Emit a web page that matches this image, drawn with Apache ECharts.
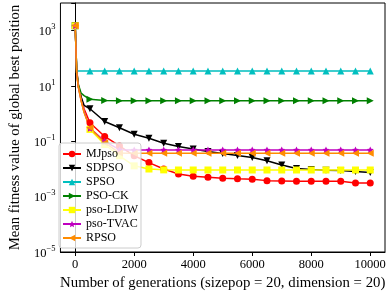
<!DOCTYPE html>
<html>
<head>
<meta charset="utf-8">
<script src="https://cdn.jsdelivr.net/npm/echarts@6/dist/echarts.min.js"></script>
<style>
html,body{margin:0;padding:0;background:#fff;}
#main{width:392px;height:297px;}
</style>
</head>
<body>
<div id="main"></div>
<script>
// generations sampled
var gens = [0, 50, 100, 200, 300, 500, 1000, 1500, 2000, 2500, 3000, 3500, 4000, 4500, 5000,
	5500, 6000, 6500, 7000, 7500, 8000, 8500, 9000, 9500, 10000];
var mjpso = [1500, 40, 12, 4, 1.5, 0.47, 0.15, 0.068, 0.03, 0.017, 0.01, 0.0066, 0.0055, 0.005, 0.0046,
	0.0044, 0.0043, 0.0038, 0.0037, 0.0036, 0.0036, 0.0036, 0.0036, 0.0031, 0.0031];
var sdpso = [1500, 40, 10, 4, 2, 1.5, 0.52, 0.31, 0.18, 0.13, 0.085, 0.065, 0.053, 0.043, 0.036,
	0.031, 0.026, 0.02, 0.014, 0.0105, 0.0095, 0.009, 0.0088, 0.0082, 0.0074];
var spso = [1500, 35, 35, 35, 35, 35, 35, 35, 35, 35, 35, 35, 35, 35, 35,
	35, 35, 35, 35, 35, 35, 35, 35, 35, 35];
var psock = [1500, 40, 12, 5.5, 4.5, 3.3, 3.0, 2.9, 2.9, 2.9, 2.9, 2.9, 2.9, 2.9, 2.9,
	2.9, 2.9, 2.9, 2.9, 2.9, 2.9, 2.9, 2.9, 2.9, 2.9];
var ldiw = [1500, 30, 10, 3, 1.2, 0.27, 0.077, 0.03, 0.013, 0.01, 0.0093, 0.0092, 0.0092, 0.0092, 0.0092,
	0.0092, 0.0092, 0.0092, 0.0092, 0.0092, 0.0092, 0.0092, 0.0092, 0.0092, 0.0092];
var tvac = [1500, 30, 10, 3, 1.2, 0.3, 0.1, 0.05, 0.049, 0.049, 0.049, 0.049, 0.049, 0.049, 0.049,
	0.049, 0.049, 0.049, 0.049, 0.049, 0.049, 0.049, 0.049, 0.049, 0.049];
var rpso = [1500, 30, 10, 3, 1.1, 0.31, 0.089, 0.038, 0.037, 0.037, 0.037, 0.037, 0.037, 0.037, 0.037,
	0.037, 0.037, 0.037, 0.037, 0.037, 0.037, 0.037, 0.037, 0.037, 0.037];
var xTicks = [0, 2000, 4000, 6000, 8000, 10000];

var fontName = "Liberation Serif";
var starPath = 'path://M0,-10 L2.9,-4 L9.5,-3.1 L4.8,1.5 L5.9,8.1 L0,5 L-5.9,8.1 L-4.8,1.5 L-9.5,-3.1 L-2.9,-4 Z';

function pairs(ys) {
	var out = [];
	for (var i = 0; i < gens.length; i++) {
		out.push([gens[i], ys[i]]);
	}
	return out;
}

function makeSeries(name, ys, color, symbol, rotate) {
	return {
		name: name,
		type: 'line',
		data: pairs(ys),
		symbol: symbol,
		symbolRotate: rotate || 0,
		// markers only every 500 generations
		symbolSize: function(v) {
			return v[0] % 500 === 0 ? 7 : 0;
		},
		showSymbol: true,
		lineStyle: {color: color, width: 1.5},
		itemStyle: {color: color},
		emphasis: {disabled: true},
		animation: false
	};
}

var myChart = echarts.init(document.getElementById('main'));
var option = {
	animation: false,
	grid: {
		left: 56,
		top: 3,
		right: 7,
		bottom: 45,
		show: true,
		borderColor: '#000',
		borderWidth: 1
	},
	legend: {
		orient: 'vertical',
		left: 59,
		top: 143,
		padding: [4, 3, 3, 3],
		itemWidth: 18,
		itemHeight: 8,
		itemGap: 0,
		backgroundColor: 'rgba(255,255,255,0.8)',
		borderColor: '#ccc',
		borderWidth: 1,
		borderRadius: 3,
		textStyle: {fontFamily: fontName, fontSize: 12, lineHeight: 14, color: '#000'},
		data: ['MJpso', 'SDPSO', 'SPSO', 'PSO-CK', 'pso-LDIW', 'pso-TVAC', 'RPSO']
	},
	xAxis: {
		type: 'value',
		min: -500,
		max: 10500,
		name: 'Number of generations (sizepop = 20, dimension = 20)',
		nameLocation: 'middle',
		nameGap: 24,
		nameTextStyle: {fontFamily: fontName, fontSize: 14.8, color: '#000'},
		axisLine: {lineStyle: {color: '#000'}},
		axisTick: {customValues: xTicks, length: 4, lineStyle: {color: '#000'}},
		axisLabel: {
			customValues: xTicks,
			fontFamily: fontName,
			fontSize: 12.5,
			color: '#000',
			margin: 6,
			formatter: function(v) {
				return String(v);
			}
		},
		splitLine: {show: false}
	},
	yAxis: {
		type: 'log',
		logBase: 10,
		min: 1e-5,
		max: 1e4,
		interval: 2,
		name: 'Mean fitness value of global best position',
		nameLocation: 'middle',
		nameGap: 35,
		nameTextStyle: {fontFamily: fontName, fontSize: 14.7, color: '#000'},
		axisLine: {lineStyle: {color: '#000'}},
		axisTick: {length: 4, lineStyle: {color: '#000'}},
		axisLabel: {
			margin: 5,
			formatter: function(v) {
				var e = Math.round(Math.log(v) / Math.LN10);
				if (e === 4) return '';
				var s = e < 0 ? '\u2212' + (-e) : '' + e;
				return '{b|10}{s|' + s + '}';
			},
			rich: {
				b: {fontFamily: fontName, fontSize: 12.5, color: '#000', lineHeight: 16, verticalAlign: 'bottom'},
				s: {fontFamily: fontName, fontSize: 8.5, color: '#000', lineHeight: 16, verticalAlign: 'top'}
			}
		},
		splitLine: {show: false}
	},
	series: [
		makeSeries('MJpso', mjpso, '#ff0000', 'circle'),
		makeSeries('SDPSO', sdpso, '#000000', 'triangle', 180),
		makeSeries('SPSO', spso, '#00bfbf', 'triangle'),
		makeSeries('PSO-CK', psock, '#008000', 'triangle', -90),
		makeSeries('pso-LDIW', ldiw, '#ffff00', 'rect'),
		makeSeries('pso-TVAC', tvac, '#bf00bf', starPath),
		makeSeries('RPSO', rpso, '#ff8c00', 'triangle', 90)
	]
};
myChart.setOption(option);
</script>
</body>
</html>
